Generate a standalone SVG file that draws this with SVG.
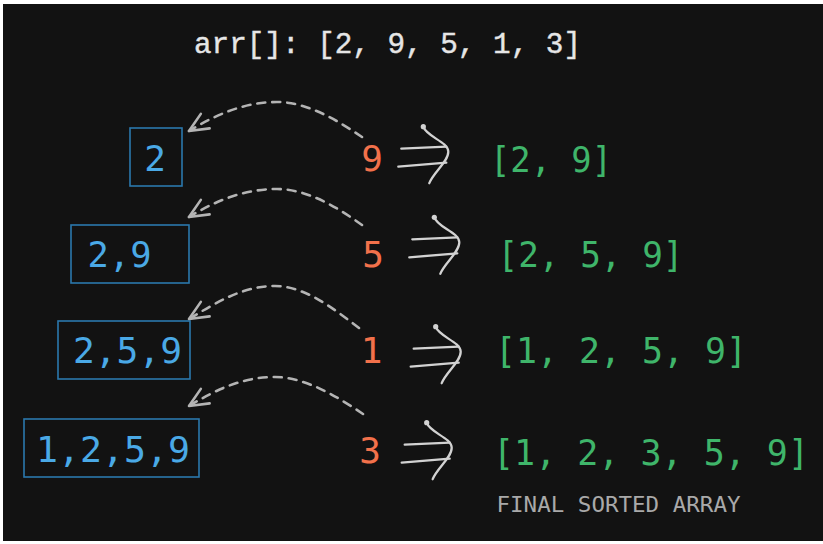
<svg xmlns="http://www.w3.org/2000/svg" width="823" height="544" viewBox="0 0 823 544">
<defs>
<style>
.mono{font-family:"DejaVu Sans Mono","Liberation Mono",monospace;}
.blue{fill:#4aa9e6;font-size:36px;}
.orange{fill:#f2714b;font-size:36px;}
.green{fill:#3fb56a;font-size:35px;}
.box{fill:none;stroke:#2b78ad;stroke-width:1.6;}
.dash{fill:none;stroke:#b4b4b4;stroke-width:2.6;stroke-dasharray:8 7;stroke-linecap:round;}
.hand{fill:none;stroke:#d2d2d2;stroke-width:2.3;stroke-linecap:round;stroke-linejoin:round;}
</style>
<marker id="ah" viewBox="-22 -12 26 24" markerWidth="26" markerHeight="24" refX="0" refY="0" orient="auto" markerUnits="userSpaceOnUse" overflow="visible">
<path d="M -19 -8.5 L 0 0 L -19 8.5" fill="none" stroke="#b4b4b4" stroke-width="2.6" stroke-linecap="round" stroke-linejoin="round"/>
</marker>
<g id="imp">
<circle cx="0" cy="0" r="2.6" fill="#d2d2d2"/>
<path class="hand" d="M 0 0 C 3 10, 25 15, 25 25 C 25 35, 10 46, 6 56.5"/>
<path class="hand" d="M -22 22 L 23 20"/>
<path class="hand" d="M -25 40 L 23 36"/>
</g>
</defs>
<rect x="0" y="0" width="823" height="544" fill="#ffffff"/>
<rect x="3" y="4" width="820" height="537" fill="#121212"/>

<g id="title">
<text x="194" y="52.5" font-family="'Liberation Mono',monospace" font-size="29" fill="#e6e6e6" stroke="#e6e6e6" stroke-width="0.4" textLength="387" lengthAdjust="spacingAndGlyphs">arr[]: [2, 9, 5, 1, 3]</text>
</g>

<g id="box1"><rect class="box" x="130" y="128" width="52" height="58"/><text class="mono blue" x="155" y="171" text-anchor="middle">2</text></g>
<g id="box2"><rect class="box" x="71" y="225" width="118" height="58"/><text class="mono blue" x="119.5" y="267" text-anchor="middle" textLength="64" lengthAdjust="spacingAndGlyphs">2,9</text></g>
<g id="box3"><rect class="box" x="58" y="321" width="132" height="58"/><text class="mono blue" x="127.5" y="363" text-anchor="middle" textLength="109" lengthAdjust="spacingAndGlyphs">2,5,9</text></g>
<g id="box4"><rect class="box" x="24" y="419" width="175" height="58"/><text class="mono blue" x="113" y="462" text-anchor="middle" textLength="154" lengthAdjust="spacingAndGlyphs">1,2,5,9</text></g>

<g id="num9"><text class="mono orange" x="372" y="171" text-anchor="middle">9</text></g>
<g id="num5"><text class="mono orange" x="373" y="267" text-anchor="middle">5</text></g>
<g id="num1"><text class="mono orange" x="371.5" y="363" text-anchor="middle">1</text></g>
<g id="num3"><text class="mono orange" x="370" y="463" text-anchor="middle">3</text></g>

<g id="res1"><text class="mono green" x="551" y="172" text-anchor="middle" textLength="122" lengthAdjust="spacingAndGlyphs">[2, 9]</text></g>
<g id="res2"><text class="mono green" x="590.5" y="267" text-anchor="middle" textLength="186" lengthAdjust="spacingAndGlyphs">[2, 5, 9]</text></g>
<g id="res3"><text class="mono green" x="621" y="363" text-anchor="middle" textLength="252" lengthAdjust="spacingAndGlyphs">[1, 2, 5, 9]</text></g>
<g id="res4"><text class="mono green" x="651" y="465" text-anchor="middle" textLength="316" lengthAdjust="spacingAndGlyphs">[1, 2, 3, 5, 9]</text></g>

<g id="caption"><text class="mono" x="618.5" y="512" text-anchor="middle" font-size="22" fill="#a9a9a9" textLength="244" lengthAdjust="spacingAndGlyphs">FINAL SORTED ARRAY</text></g>

<g id="connectors">
<path class="dash" marker-end="url(#ah)" d="M 362 137 C 337 120, 307 102, 277 102 C 245 102, 217 114, 189 131"/>
<path class="dash" marker-end="url(#ah)" d="M 362 225 C 337 207, 307 189, 277 189 C 245 189, 217 200, 189 217"/>
<path class="dash" marker-end="url(#ah)" d="M 359 328 C 334 309, 305 286, 275 286 C 243 286, 217 302, 189 319"/>
<path class="dash" marker-end="url(#ah)" d="M 363 414 C 338 397, 305 377, 275 377 C 243 377, 217 389, 189 406"/>
<use href="#imp" x="423.3" y="126.7"/>
<use href="#imp" x="434.3" y="217.3"/>
<use href="#imp" x="435.7" y="326.7"/>
<use href="#imp" x="426.7" y="422.7"/>
</g>
</svg>
